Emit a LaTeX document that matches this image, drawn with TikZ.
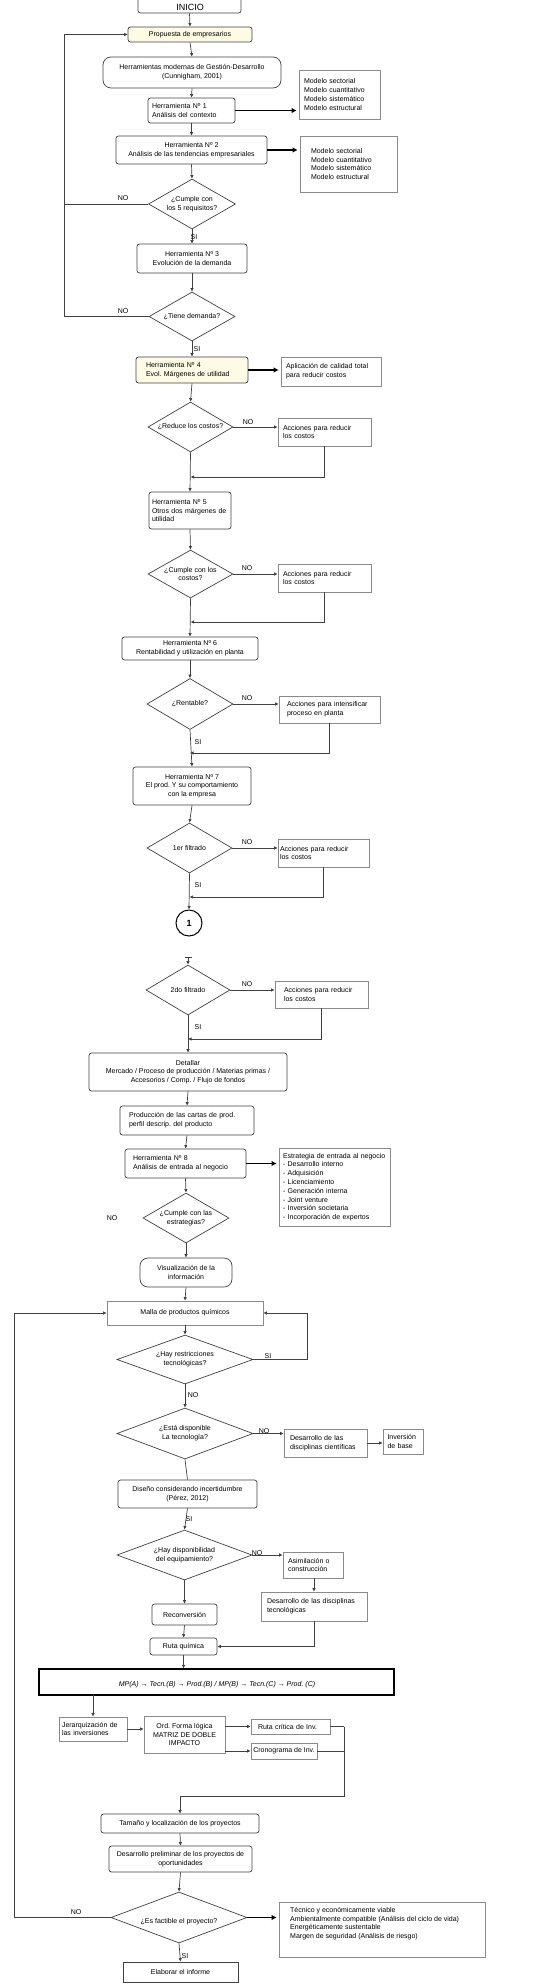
\documentclass[tikz,border=0pt]{standalone}
\usepackage{fontspec}
\setmainfont{Liberation Sans}
\usetikzlibrary{shapes.geometric,arrows.meta,calc}
\definecolor{lc}{HTML}{404040}
\definecolor{bc}{HTML}{8A8A8A}
\definecolor{cream}{HTML}{FDFBE4}
\frenchspacing
\newcommand\fs{\fontsize{7}{8.8}\selectfont\hyphenpenalty=10000\exhyphenpenalty=10000}
\begin{document}
\begin{tikzpicture}[x=1pt,y=-1pt,
  every node/.style={font=\fs, inner sep=0pt},
  ar/.style={draw=lc, line width=0.7pt, -{Latex[length=3.5pt,width=3.5pt]}},
  ln/.style={draw=lc, line width=0.7pt},
  thk/.style={draw=black, line width=1.8pt, -{Latex[length=5pt,width=5.5pt]}, shorten >=2pt},
  rb/.style={draw=lc, line width=0.7pt, rounded corners=2.5pt, align=center},
  sb/.style={draw=bc, line width=0.6pt, align=left},
  dia/.style={diamond, draw=lc, line width=0.7pt},
  dt/.style={align=center}]
\useasboundingbox (0,0) rectangle (548,1988);
% ---------- nodes ----------
\node[rb, minimum width=103pt, minimum height=21pt] (ini) at (189.5,2.5) {};
\node[font=\fontsize{9}{10}\selectfont] (init) at (190,7.5) {INICIO};
\node[rb, fill=cream, minimum width=124pt, minimum height=15pt] (prop) at (190,34.5) {Propuesta de empresarios};
\node[rb, rounded corners=8pt, minimum width=178pt, minimum height=31pt] (herrm) at (192,72.5) {Herramientas modernas de Gestión-Desarrollo\\(Cunnigham, 2001)};
\node[rb, align=left, minimum width=87pt, minimum height=25pt, text width=79pt] (h1) at (191.5,110.5) {Herramienta Nº 1\\Análisis del contexto};
\node[sb, minimum width=81pt, minimum height=49pt, text width=71pt] (m1) at (339.5,94.5) {Modelo sectorial\\Modelo cuantitativo\\Modelo sistemático\\Modelo estructural};
\node[rb, minimum width=151pt, minimum height=28pt] (h2) at (191.5,150) {Herramienta Nº 2\\Análisis de las tendencias empresariales};
\node[sb, minimum width=97pt, minimum height=56pt, text width=75pt] (m2) at (348.5,164) {Modelo sectorial\\Modelo cuantitativo\\Modelo sistemático\\Modelo estructural};
\node[dia, minimum width=87pt, minimum height=50pt] (d1) at (192,204) {};
\node[dt] (d1t) at (d1) {¿Cumple con\\los 5 requisitos?};
\node[rb, minimum width=110pt, minimum height=29pt] (h3) at (192,258.5) {Herramienta Nº 3\\Evolución de la demanda};
\node[dia, minimum width=86pt, minimum height=49pt] (d2) at (192,316.5) {};
\node[dt] (d2t) at (d2) {¿Tiene demanda?};
\node[rb, fill=cream, align=left, minimum width=112pt, minimum height=26pt, text width=92pt] (h4) at (192,370) {Herramienta Nº 4\\Evol. Márgenes de utilidad};
\node[sb, minimum width=100pt, minimum height=29pt, text width=90pt] (apl) at (331,371.5) {Aplicación de calidad total\\para reducir costos};
\node[dia, minimum width=85pt, minimum height=50pt] (d3) at (190.5,427) {};
\node[dt] (d3t) at (d3) {¿Reduce los costos?};
\node[sb, minimum width=93pt, minimum height=28pt, text width=83pt] (acc1) at (324.5,432) {Acciones para reducir\\los costos};
\node[rb, align=left, minimum width=82pt, minimum height=37pt, text width=76pt] (h5) at (190,510.5) {Herramienta Nº 5\\Otros dos márgenes de\\utilidad};
\node[dia, minimum width=85pt, minimum height=48pt] (d4) at (190.5,574) {};
\node[dt] (d4t) at (d4) {¿Cumple con los\\costos?};
\node[sb, minimum width=93pt, minimum height=28pt, text width=83pt] (acc2) at (324.5,578) {Acciones para reducir\\los costos};
\node[rb, minimum width=136pt, minimum height=23pt] (h6) at (190,648.5) {Herramienta Nº 6\\Rentabilidad y utilización en planta};
\node[dia, minimum width=86pt, minimum height=51pt] (d5) at (190,704) {};
\node[dt] (d5t) at (d5) {¿Rentable?};
\node[sb, minimum width=101pt, minimum height=27pt, text width=85pt] (accI) at (329.5,709.5) {Acciones para intensificar\\proceso en planta};
\node[rb, minimum width=118pt, minimum height=38pt] (h7) at (192,786) {Herramienta Nº 7\\El prod. Y su comportamiento\\con la empresa};
\node[dia, minimum width=85pt, minimum height=50pt] (d6) at (189.5,848) {};
\node[dt] (d6t) at (d6) {1er filtrado};
\node[sb, minimum width=91pt, minimum height=28pt, text width=87pt] (acc3) at (323.5,853) {Acciones para reducir\\los costos};
\node[circle, draw=black, line width=1pt, minimum size=26pt, font=\fontsize{9}{10}\selectfont\bfseries] (c1) at (189,923) {1};
\coordinate (tk) at (188,957);
\node[dia, minimum width=84pt, minimum height=50pt] (d7) at (188,990) {};
\node[dt] (d7t) at (d7) {2do filtrado};
\node[sb, minimum width=93pt, minimum height=27pt, text width=75pt] (acc4) at (321.5,994.5) {Acciones para reducir\\los costos};
\node[rb, minimum width=198pt, minimum height=38pt] (det) at (188,1072) {Detallar\\Mercado / Proceso de producción / Materias primas /\\Accesorios / Comp. / Flujo de fondos};
\node[rb, align=left, minimum width=134pt, minimum height=29pt, text width=116pt] (prod) at (187,1120.5) {Producción de las cartas de prod.\\perfil descrip. del producto};
\node[rb, align=left, minimum width=121pt, minimum height=29pt, text width=105pt] (h8) at (185.5,1163.5) {Herramienta Nº 8\\Análisis de entrada al negocio};
\node[sb, minimum width=111pt, minimum height=78pt, text width=103pt] (estr) at (334.5,1187) {Estrategia de entrada al negocio\\- Desarrollo interno\\- Adquisición\\- Licenciamiento\\- Generación interna\\- Joint venture\\- Inversión societaria\\- Incorporación de expertos};
\node[dia, minimum width=86pt, minimum height=50pt] (d8) at (186,1218) {};
\node[dt] (d8t) at (d8) {¿Cumple con las\\estrategias?};
\node (no8) at (112,1218) {NO};
\node[rb, rounded corners=8pt, minimum width=92pt, minimum height=29pt] (vis) at (186,1272.5) {Visualización de la\\información};
\node[sb, align=center, minimum width=156pt, minimum height=24pt] (malla) at (185,1313) {Malla de productos químicos};
\node[dia, minimum width=136pt, minimum height=49pt] (d9) at (185,1359.5) {};
\node[dt] (d9t) at (d9) {¿Hay restricciones\\tecnológicas?};
\node[dia, minimum width=136pt, minimum height=51pt] (d10) at (185,1433.5) {};
\node[dt] (d10t) at (d10) {¿Está disponible\\La tecnología?};
\node[sb, minimum width=83pt, minimum height=28pt, text width=71pt] (dcient) at (325.5,1443) {Desarrollo de las\\disciplinas científicas};
\node[sb, minimum width=40pt, minimum height=25pt, text width=31pt] (invb) at (403,1441.5) {Inversión\\de base};
\node[rb, minimum width=139pt, minimum height=28pt] (dis) at (187.5,1494) {Diseño considerando incertidumbre\\(Pérez, 2012)};
\node[dia, minimum width=135pt, minimum height=50pt] (d11) at (184.5,1555) {};
\node[dt] (d11t) at (d11) {¿Hay disponibilidad\\del equipamiento?};
\node[sb, minimum width=60pt, minimum height=26pt, text width=50pt] (asim) at (313,1565) {Asimilación o\\construcción};
\node[sb, minimum width=106pt, minimum height=29pt, text width=94pt] (dtec) at (314,1606.5) {Desarrollo de las disciplinas\\tecnológicas};
\node[rb, minimum width=65pt, minimum height=21pt] (recon) at (184.5,1614.5) {Reconversión};
\node[rb, minimum width=67pt, minimum height=17pt] (ruta) at (183.5,1646.5) {Ruta química};
\node[draw=black, line width=1.1pt, minimum width=355pt, minimum height=26pt] (mp) at (216.5,1682) {};
\node (mpt) at (217,1685) {\itshape MP(A) → Tecn.(B) → Prod.(B) / MP(B) → Tecn.(C) → Prod. (C)};
\node[sb, minimum width=68pt, minimum height=24pt, text width=62pt] (jer) at (93,1729) {Jerarquización de\\las inversiones};
\node[sb, align=center, minimum width=81pt, minimum height=37pt] (ord) at (184.5,1734.5) {Ord. Forma lógica\\MATRIZ DE DOBLE\\IMPACTO};
\node[sb, minimum width=79pt, minimum height=15pt, text width=65pt] (rcrit) at (290.5,1726.5) {Ruta crítica de Inv.};
\node[sb, align=center, minimum width=66pt, minimum height=16pt] (crono) at (284,1751) {Cronograma de Inv.};
\node[rb, minimum width=158pt, minimum height=19pt] (tam) at (180,1823.5) {Tamaño y localización de los proyectos};
\node[rb, minimum width=143pt, minimum height=26pt] (dprel) at (180.5,1859) {Desarrollo preliminar de los proyectos de\\oportunidades};
\node[dia, minimum width=136pt, minimum height=51pt] (d12) at (179,1917.5) {};
\node[dt] (d12t) at (179,1922) {¿Es factible el proyecto?};
\node[sb, minimum width=206pt, minimum height=55pt] (tec) at (382,1929.5) {};
\node[align=left, anchor=north west] (tect) at (290,1907) {Técnico y económicamente viable\\Ambientalmente compatible (Análisis del ciclo de vida)\\Energéticamente sustentable\\Margen de seguridad (Análisis de riesgo)};
\node[draw=lc, line width=0.7pt, minimum width=115pt, minimum height=20pt] (elab) at (180.5,1972) {Elaborar el informe};
% ---------- coordinates ----------
\coordinate (lx) at (64,0);
\coordinate (lx2) at (14,0);
\coordinate (j1) at (190.5,477);
\coordinate (j2) at (190.5,622);
\coordinate (j3) at (190,753);
\coordinate (j4) at (189.5,897);
\coordinate (j5) at (188,1039);
\coordinate (rx) at (307,0);
\coordinate (jx) at (344,0);
\coordinate (jy) at (0,1796);
\coordinate (mpj) at (93,1695);
% ---------- connectors ----------
\draw[ar] (ini.south) -- (prop.north);
\draw[ar] (prop.south) -- (herrm.north);
\draw[ar] (herrm.south) -- (h1.north);
\draw[ar] (h1.south) -- (h2.north);
\draw[thk] (h1.east) -- (h1.east -| m1.west);
\draw[thk] (h2.east) -- (h2.east -| m2.west);
\draw[ar] (h2.south) -- (d1.north);
\draw[ar] (d1.south) -- (h3.north);
\draw[ar] (d1.west) -- (d1.west -| lx) |- (prop.west);
\draw[ln] (d2.west) -| (d1.west -| lx);
\draw[ar] (h3.south) -- (d2.north);
\draw[ar] (d2.south) -- (h4.north);
\draw[thk] (h4.east) -- (h4.east -| apl.west);
\draw[ar] (h4.south) -- (d3.north);
\draw[ar] (d3.east) -- (d3.east -| acc1.west);
\draw[ar] (acc1.south) |- (j1);
\draw[ar] (d3.south) -- (h5.north);
\draw[ar] (h5.south) -- (d4.north);
\draw[ar] (d4.east) -- (d4.east -| acc2.west);
\draw[ar] (acc2.south) |- (j2);
\draw[ar] (d4.south) -- (h6.north);
\draw[ar] (h6.south) -- (d5.north);
\draw[ar] (d5.east) -- (d5.east -| accI.west);
\draw[ar] (accI.south) |- (j3);
\draw[ar] (d5.south) -- (h7.north);
\draw[ar] (h7.south) -- (d6.north);
\draw[ar] (d6.east) -- (d6.east -| acc3.west);
\draw[ar] (acc3.south) |- (j4);
\draw[ar] (d6.south) -- (c1.north);
\draw[ln] ($(tk)+(-3.5,0)$) -- ($(tk)+(3.5,0)$);
\draw[ar] (tk) -- (d7.north);
\draw[ar] (d7.east) -- (d7.east -| acc4.west);
\draw[ar] (acc4.south) |- (j5);
\draw[ar] (d7.south) -- (det.north);
\draw[ar] (det.south) -- (prod.north);
\draw[ar] (prod.south) -- (h8.north);
\draw[thk] (h8.east) -- (h8.east -| estr.west);
\draw[ar] (h8.south) -- (d8.north);
\draw[ar] (d8.south) -- (vis.north);
\draw[ar] (vis.south) -- (malla.north);
\draw[ar] (malla.south) -- (d9.north);
\draw[ar] (d9.east) -- (d9.east -| rx) |- (malla.east);
\draw[ar] (d9.south) -- (d10.north);
\draw[ar] (d10.east) -- (d10.east -| dcient.west);
\draw[ar] (dcient.east) -- (dcient.east -| invb.west);
\draw[ln] (d10.south) -- (dis.north);
\draw[ar] (dis.south) -- (d11.north);
\draw[ar] (d11.east) -- (d11.east -| asim.west);
\draw[ar] (asim.south -| dtec.north) -- (dtec.north);
\draw[ar] (dtec.south) |- (ruta.east);
\draw[ar] (d11.south) -- (recon.north);
\draw[ar] (recon.south) -- (ruta.north);
\draw[ar] (ruta.south) -- (ruta.south |- mp.north);
\draw[ar] (mpj) -- (jer.north);
\draw[ar] (jer.east) -- (ord.west |- jer.east);
\draw[ar] (ord.east |- rcrit.west) -- (rcrit.west);
\draw[ar] (ord.east |- crono.west) -- (crono.west);
\draw[ln] (rcrit.east) -- (rcrit.east -| jx);
\draw[ln] (crono.east) -- (crono.east -| jx);
\draw[ar] (rcrit.east -| jx) -- (jx |- jy) -| (tam.north);
\draw[ar] (tam.south) -- (dprel.north);
\draw[ar] (dprel.south) -- (d12.north);
\draw[ar] (d12.west) -- (d12.west -| lx2) |- (malla.west);
\draw[thk] (d12.east) -- (d12.east -| tec.west);
\draw[ar] (d12.south) -- (elab.north);
% ---------- labels ----------
\node (l1) at (123,198) {NO};
\node (l2) at (123,311) {NO};
\node (l3) at (194,237) {SI};
\node (l4) at (197,349) {SI};
\node (l5) at (248,422) {NO};
\node (l6) at (247,568) {NO};
\node (l7) at (247,698) {NO};
\node (l8) at (198,742) {SI};
\node (l9) at (247,842) {NO};
\node (l10) at (198,885) {SI};
\node (l11) at (247,984) {NO};
\node (l12) at (198,1027) {SI};
\node (l13) at (268,1356) {SI};
\node (l14) at (193,1395) {NO};
\node (l15) at (264,1431) {NO};
\node (l16) at (189,1519) {SI};
\node (l17) at (257,1553) {NO};
\node (l18) at (76,1912) {NO};
\node (l19) at (185,1956) {SI};
\end{tikzpicture}
\end{document}
